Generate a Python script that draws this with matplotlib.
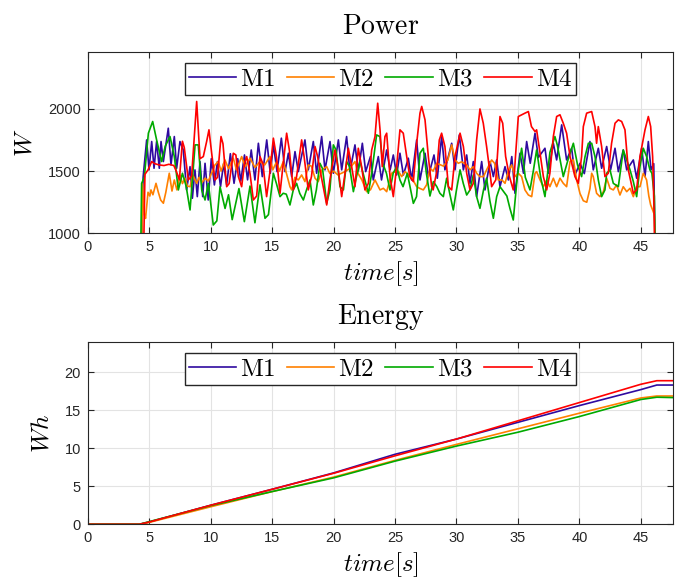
import matplotlib
matplotlib.use('Agg')
import matplotlib.pyplot as plt

plt.rcParams['mathtext.fontset'] = 'cm'
plt.rcParams['font.family'] = 'Liberation Sans'

labels = ['M1', 'M2', 'M3', 'M4']
colors = ['#2f0aa0', '#ff8000', '#00aa00', '#ff0000']

# power traces (peaks / troughs)
t_m1 = [0, 4.2, 4.5, 4.79, 4.98, 5.2, 5.39, 5.6, 5.82, 5.96, 6.15, 6.55, 6.77, 7.04, 7.23, 7.5, 7.77,
        8.04, 8.32, 8.51, 8.72, 8.91, 9.13, 9.35, 9.54, 9.8, 10.05, 10.3, 10.55, 10.8, 11.05, 11.3,
        11.6, 11.9, 12.2, 12.45, 12.75, 13.0, 13.3, 13.6, 13.88, 14.2, 14.56, 14.85, 15.1, 15.4,
        15.75, 16.05, 16.32, 16.59, 16.86, 17.13, 17.67, 17.94, 18.35, 18.62, 19.03, 19.3, 19.71,
        19.98, 20.39, 20.66, 21.06, 21.33, 21.74, 22.01, 22.34, 22.61, 23.0, 23.23, 23.64, 23.9,
        24.32, 24.6, 24.86, 25.13, 25.4, 25.68, 26.08, 26.35, 26.76, 27.03, 27.44, 27.71, 28.17,
        28.44, 28.79, 29.06, 29.61, 29.88, 30.23, 30.56, 30.83, 31.1, 31.37, 31.64, 32.05, 32.32,
        32.73, 33.0, 33.27, 33.54, 33.95, 34.22, 34.5, 34.76, 35.17, 35.45, 35.71, 36.0, 36.39,
        36.66, 37.2, 37.47, 37.88, 38.15, 38.56, 38.96, 39.37, 39.64, 40.05, 40.4, 40.86, 41.13,
        41.54, 41.81, 42.22, 42.54, 42.9, 43.17, 43.57, 43.85, 44.39, 44.66, 45.07, 45.34, 45.61,
        45.83, 46.05, 46.3, 47.64]
p_m1 = [0, 0, 1450, 1751, 1510, 1738, 1523, 1738, 1523, 1738, 1577, 1845, 1550, 1778, 1523, 1738, 1670,
        1349, 1536, 1282, 1510, 1295, 1577, 1295, 1563, 1268, 1600, 1389, 1577, 1375, 1560, 1390,
        1640, 1402, 1600, 1420, 1630, 1430, 1670, 1429, 1724, 1456, 1751, 1483, 1711, 1496,
        1765, 1496, 1644, 1456, 1657, 1496, 1751, 1510, 1738, 1483, 1778, 1510, 1738,
        1483, 1751, 1510, 1778, 1496, 1711, 1500, 1724, 1496, 1617, 1429, 1617, 1429,
        1670, 1510, 1630, 1469, 1644, 1469, 1604, 1429, 1751, 1429, 1644, 1456, 1630,
        1443, 1778, 1510, 1724, 1510, 1791, 1510, 1630, 1402, 1577, 1295, 1577, 1349,
        1577, 1456, 1590, 1375, 1536, 1429, 1617, 1322, 1644, 1483, 1738, 1563, 1805,
        1610, 1684, 1483, 1724, 1590, 1872, 1590, 1684, 1469, 1563, 1480, 1738, 1510,
        1684, 1523, 1698, 1510, 1684, 1496, 1670, 1510, 1590, 1443, 1684, 1456, 1738,
        1510, 1560, 0, 0]

t_m2 = [0, 4.3, 4.45, 4.6, 4.7, 4.9, 5.05, 5.14, 5.3, 5.55, 5.74, 5.93, 6.15, 6.35, 6.63, 6.85, 7.04,
        7.25, 7.5, 7.7, 7.91, 8.1, 8.32, 8.55, 8.86, 9.05, 9.3, 9.55, 9.81, 10.05, 10.35, 10.62,
        10.85, 11.16, 11.45, 11.84, 12.1, 12.52, 12.8, 13.2, 13.6, 14.01, 14.4, 14.82, 15.05, 15.37,
        15.6, 15.91, 16.2, 16.45, 16.59, 16.85, 17.13, 17.4, 17.67, 17.94, 18.2, 18.49, 18.75, 19.05,
        19.44, 19.7, 20.0, 20.35, 20.93, 21.3, 21.74, 22.0, 22.3, 22.69, 23.0, 23.37, 23.78, 24.05,
        24.32, 24.72, 25.0, 25.27, 25.54, 25.8, 26.1, 26.4, 26.76, 27.0, 27.3, 27.57, 27.84, 28.1,
        28.39, 28.7, 28.95, 29.3, 29.61, 29.88, 30.15, 30.42, 30.83, 31.1, 31.37, 31.64, 31.9, 32.2,
        32.45, 32.86, 33.1, 33.4, 33.7, 33.95, 34.22, 34.49, 34.76, 35.03, 35.3, 35.57, 35.85, 36.12,
        36.39, 36.52, 36.8, 37.07, 37.34, 37.6, 37.88, 38.15, 38.42, 38.69, 38.96, 39.24, 39.51,
        39.78, 40.05, 40.32, 40.6, 40.86, 41.0, 41.13, 41.4, 41.67, 41.95, 42.22, 42.49, 42.76,
        43.03, 43.3, 43.57, 43.85, 44.12, 44.39, 44.66, 44.93, 45.2, 45.47, 45.65, 45.8, 45.96,
        46.1, 46.3, 47.64]
p_m2 = [0, 0, 1400, 1150, 1120, 1330, 1300, 1349, 1310, 1402, 1330, 1268, 1242, 1330, 1483, 1340, 1429,
        1349, 1469, 1400, 1443, 1380, 1375, 1469, 1402, 1450, 1410, 1443, 1420, 1480, 1550, 1577,
        1500, 1590, 1520, 1604, 1510, 1617, 1536, 1604, 1530, 1577, 1550, 1617, 1510, 1577,
        1500, 1577, 1470, 1375, 1349, 1450, 1429, 1469, 1416, 1550, 1540, 1443, 1416, 1510,
        1536, 1480, 1500, 1470, 1496, 1520, 1577, 1480, 1430, 1335, 1350, 1429, 1349, 1362,
        1335, 1483, 1496, 1500, 1456, 1496, 1470, 1440, 1375, 1362, 1349, 1390, 1523, 1500,
        1563, 1550, 1540, 1590, 1711, 1590, 1563, 1575, 1550, 1510, 1536, 1483, 1456, 1456,
        1510, 1590, 1563, 1429, 1429, 1402, 1500, 1550, 1456, 1483, 1456, 1349, 1308, 1295,
        1483, 1496, 1429, 1375, 1429, 1375, 1443, 1375, 1443, 1402, 1375, 1577, 1590,
        1429, 1320, 1262, 1250, 1360, 1483, 1456, 1322, 1295, 1335, 1443, 1362, 1349,
        1389, 1308, 1375, 1335, 1362, 1295, 1375, 1375, 1483, 1429, 1300, 1228, 1188,
        1150, 0, 0]

t_m3 = [0, 4.19, 4.38, 4.6, 4.93, 5.28, 5.6, 6.01, 6.3, 6.69, 7.04, 7.37, 7.7, 8.0, 8.32, 8.73, 8.99,
        9.27, 9.54, 9.81, 10.21, 10.5, 10.76, 11.17, 11.45, 11.75, 12.3, 12.74, 13.2, 13.6, 14.01,
        14.42, 14.7, 15.1, 15.35, 15.64, 15.9, 16.15, 16.45, 16.72, 16.99, 17.25, 17.54, 17.8, 18.08,
        18.35, 18.6, 18.89, 19.1, 19.44, 19.7, 19.98, 20.2, 20.52, 20.8, 21.06, 21.3, 21.61, 21.85,
        22.15, 22.4, 22.83, 23.1, 23.5, 23.77, 24.0, 24.3, 24.59, 24.85, 25.13, 25.4, 25.65, 26.0,
        26.49, 26.75, 27.03, 27.3, 27.55, 27.84, 28.12, 28.4, 28.65, 28.93, 29.2, 29.45, 29.74, 30.0,
        30.29, 30.55, 30.83, 31.1, 31.37, 31.64, 31.91, 32.2, 32.45, 32.72, 33.0, 33.27, 33.54, 33.8,
        34.1, 34.35, 34.62, 34.95, 35.3, 35.6, 35.98, 36.25, 36.52, 36.85, 37.2, 37.6, 38.01, 38.2,
        38.69, 39.1, 39.51, 39.85, 40.18, 40.46, 40.73, 41.0, 41.27, 41.54, 41.81, 42.08, 42.22,
        42.49, 42.76, 43.17, 43.57, 43.85, 44.12, 44.39, 44.66, 44.93, 45.2, 45.47, 45.74, 45.9,
        46.1, 46.3, 47.64]
p_m3 = [0, 0, 1402, 1450, 1805, 1899, 1751, 1577, 1700, 1778, 1617, 1349, 1483, 1380, 1188, 1711, 1711,
        1349, 1268, 1402, 1067, 1100, 1374, 1200, 1310, 1110, 1360, 1094, 1380, 1085, 1390,
        1121, 1150, 1483, 1400, 1295, 1322, 1315, 1228, 1349, 1402, 1320, 1268, 1350, 1429,
        1228, 1350, 1563, 1520, 1241, 1349, 1711, 1670, 1375, 1349, 1577, 1536, 1335, 1450,
        1577, 1483, 1322, 1483, 1791, 1778, 1563, 1483, 1349, 1483, 1536, 1429, 1375, 1483,
        1241, 1295, 1644, 1684, 1483, 1300, 1416, 1375, 1322, 1295, 1443, 1320, 1188, 1349,
        1510, 1402, 1308, 1349, 1469, 1295, 1201, 1349, 1443, 1260, 1121, 1295, 1375, 1340,
        1300, 1200, 1107, 1456, 1684, 1450, 1349, 1500, 1670, 1450, 1295, 1650, 1778, 1711,
        1456, 1600, 1724, 1550, 1456, 1617, 1724, 1724, 1617, 1429, 1295, 1349, 1483,
        1510, 1402, 1375, 1670, 1590, 1510, 1416, 1295, 1536, 1684, 1617, 1510, 1483,
        1300, 0, 0]

t_m4 = [0, 4.4, 4.65, 4.9, 5.2, 5.45, 5.8, 6.2, 6.6, 7.0, 7.2, 7.45, 7.7, 7.85, 8.18, 8.45, 8.86, 9.13,
        9.4, 9.67, 9.86, 10.08, 10.35, 10.55, 10.84, 11.0, 11.3, 11.5, 11.84, 12.05, 12.25, 12.52,
        12.75, 12.93, 13.2, 13.47, 13.74, 14.01, 14.25, 14.55, 14.8, 15.1, 15.35, 15.64, 15.9, 16.18,
        16.4, 16.72, 16.99, 17.4, 17.6, 17.94, 18.2, 18.49, 18.7, 19.0, 19.44, 19.7, 20.11, 20.35,
        20.66, 20.93, 21.2, 21.47, 21.74, 22.01, 22.28, 22.55, 22.83, 23.1, 23.37, 23.59, 23.78,
        23.96, 24.18, 24.32, 24.59, 24.86, 25.13, 25.4, 25.67, 25.95, 26.2, 26.49, 26.76, 27.03,
        27.17, 27.44, 27.71, 27.98, 28.1, 28.4, 28.6, 28.79, 29.06, 29.34, 29.61, 29.88, 30.29,
        30.56, 30.83, 31.1, 31.37, 31.64, 31.91, 32.18, 32.45, 32.73, 32.86, 33.2, 33.54, 33.76,
        34.0, 34.3, 34.62, 34.8, 35.03, 35.3, 35.57, 35.85, 36.1, 36.39, 36.52, 36.8, 37.07, 37.34,
        37.6, 37.88, 38.15, 38.42, 38.69, 38.96, 39.24, 39.64, 39.91, 40.18, 40.32, 40.59, 41.0,
        41.27, 41.4, 41.54, 41.81, 42.08, 42.35, 42.62, 42.9, 43.17, 43.44, 43.71, 43.98, 44.39,
        44.66, 44.93, 45.34, 45.61, 45.8, 45.96, 46.1, 46.2, 47.64]
p_m4 = [0, 0, 1474, 1510, 1577, 1560, 1550, 1545, 1555, 1545, 1500, 1430, 1740, 1690, 1430, 1460, 2060, 1600,
        1617, 1738, 1832, 1644, 1429, 1450, 1778, 1720, 1375, 1400, 1644, 1630, 1456, 1375,
        1560, 1617, 1480, 1268, 1300, 1617, 1560, 1295, 1480, 1765, 1617, 1322, 1560, 1805,
        1670, 1349, 1456, 1751, 1617, 1349, 1456, 1698, 1617, 1456, 1228, 1429, 1670, 1536,
        1295, 1483, 1684, 1536, 1375, 1684, 1536, 1349, 1402, 1670, 1778, 2046, 1832,
        1536, 1778, 1805, 1456, 1295, 1536, 1832, 1805, 1617, 1456, 1416, 1724, 1966,
        2020, 1912, 1617, 1375, 1349, 1500, 1750, 1805, 1698, 1375, 1349, 1617, 1805,
        1698, 1483, 1349, 1402, 1751, 2000, 1885, 1698, 1483, 1375, 1430, 1939, 1885,
        1617, 1460, 1349, 1617, 1939, 1953, 1966, 1979, 1858, 1818, 1832, 1644, 1456, 1349,
        1483, 1778, 1939, 1953, 1885, 1805, 1617, 1456, 1402, 1617, 1858, 1966, 1979,
        1858, 1724, 1858, 1698, 1456, 1483, 1724, 1885, 1912, 1899, 1832, 1510, 1322,
        1349, 1617, 1832, 1939, 1858, 1617, 1100, 0, 0]

# energy
t_e = [0, 4.2, 5, 10, 15, 20, 25, 30, 35, 40, 45, 46.3, 47.64]
e_m1 = [0, 0, 0.3, 2.5, 4.6, 6.75, 9.2, 11.2, 13.4, 15.6, 17.7, 18.3, 18.3]
e_m2 = [0, 0, 0.25, 2.3, 4.3, 6.2, 8.4, 10.5, 12.55, 14.6, 16.6, 16.86, 16.86]
e_m3 = [0, 0, 0.35, 2.45, 4.3, 6.1, 8.3, 10.28, 12.1, 14.16, 16.4, 16.7, 16.65]
e_m4 = [0, 0, 0.3, 2.5, 4.6, 6.7, 9.0, 11.2, 13.6, 16.0, 18.4, 18.87, 18.87]

power = [(t_m1, p_m1), (t_m2, p_m2), (t_m3, p_m3), (t_m4, p_m4)]
energy = [e_m1, e_m2, e_m3, e_m4]


def style_axes(ax, title, ylabel, ylim, yticks, ylab_x):
    ax.set_xlim(0, 47.64)
    ax.set_ylim(*ylim)
    ax.set_xticks(range(0, 50, 5))
    ax.set_yticks(yticks)
    ax.grid(True, color='#e3e3e3', lw=0.8)
    ax.set_axisbelow(True)
    ax.tick_params(direction='in', top=True, right=True, length=4, width=0.8,
                   labelsize=10.5, colors='#262626', pad=5)
    for s in ax.spines.values():
        s.set_color('#262626')
        s.set_linewidth(0.8)
    ax.set_title(r'$\mathrm{' + title + '}$', fontsize=20, pad=13)
    ax.set_xlabel(r'$time[s]$', fontsize=18)
    ax.xaxis.set_label_coords(0.5, -0.14)
    ax.set_ylabel(ylabel, fontsize=18)
    ax.yaxis.set_label_coords(ylab_x, 0.5)
    leg = ax.legend(loc='upper center', bbox_to_anchor=(0.5, 0.937), ncol=4, fontsize=18,
                    fancybox=False, edgecolor='#262626', framealpha=1, borderpad=0.15,
                    handlelength=1.9, handletextpad=0.15, columnspacing=0.45,
                    borderaxespad=0)
    leg.get_frame().set_linewidth(1.0)


fig = plt.figure(figsize=(6.88, 5.79), dpi=100)
ax1 = fig.add_axes([0.1276, 0.597, 0.851, 0.3137])
ax2 = fig.add_axes([0.1276, 0.0945, 0.851, 0.3154])

for (t, p), c, lab in zip(power, colors, labels):
    ax1.plot(t, p, color=c, lw=1.2, label=r'$\mathrm{' + lab + '}$')
style_axes(ax1, 'Power', r'$W$', (1000, 2460), [1000, 1500, 2000], -0.087)

for e, c, lab in zip(energy, colors, labels):
    ax2.plot(t_e, e, color=c, lw=1.2, label=r'$\mathrm{' + lab + '}$')
style_axes(ax2, 'Energy', r'$Wh$', (0, 24), [0, 5, 10, 15, 20], -0.059)

fig.savefig('out.png', dpi=100)
